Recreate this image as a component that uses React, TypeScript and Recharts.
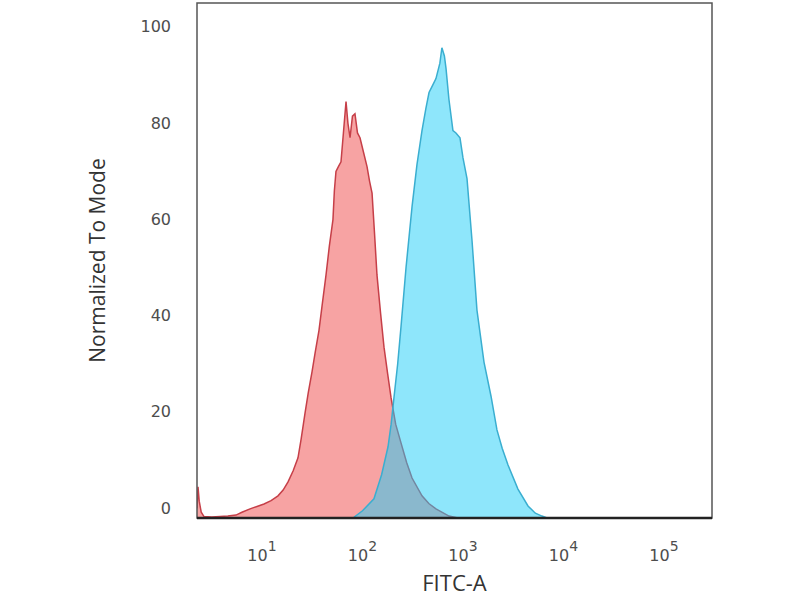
import React from "react";
import { AreaChart, Area, XAxis, YAxis, ReferenceArea, Label } from "recharts";

// x positions are log10 of FITC-A intensity, y values are % of mode
const redLog = [
    0.353, 0.363, 0.375, 0.395, 0.423, 0.5, 0.582, 0.66, 0.741, 0.8, 0.881, 0.95, 1.02, 1.09, 1.159, 1.21,
    1.259, 1.31, 1.358, 1.39, 1.428, 1.46, 1.498, 1.53, 1.567, 1.6, 1.637, 1.67, 1.706, 1.72, 1.736, 1.76,
    1.786, 1.81, 1.836, 1.855, 1.876, 1.9, 1.925, 1.95, 1.975, 2.01, 2.045, 2.07, 2.095, 2.12, 2.144, 2.18,
    2.214, 2.25, 2.284, 2.33, 2.383, 2.44, 2.493, 2.592, 2.66, 2.731, 2.861, 2.95,
];
const redPct = [
    2, 6.5, 3.5, 1.2, 0.3, 0.2, 0.3, 0.4, 0.6, 1.2, 1.9, 2.4, 2.9, 3.6, 4.6, 5.8,
    7.5, 9.8, 12.5, 16.5, 21.8, 26, 30.4, 34.5, 39, 44.5, 50.5, 56.5, 62, 68, 72, 73,
    74, 80, 86.5, 82, 79, 83.5, 84, 80, 79, 76, 73, 70, 67.5, 59, 50.5, 42.5,
    35.5, 30, 25, 19.5, 15.6, 11.5, 8.3, 4.6, 3, 1.9, 0.4, 0,
];

const blueLog = [
    1.905, 2.0, 2.114, 2.19, 2.254, 2.285, 2.313, 2.35, 2.383, 2.433, 2.493, 2.542, 2.592, 2.63, 2.662, 2.7,
    2.731, 2.77, 2.79, 2.815, 2.831, 2.86, 2.9, 2.93, 2.97, 3.0, 3.04, 3.09, 3.139, 3.209, 3.279, 3.338,
    3.39, 3.448, 3.547, 3.647, 3.72, 3.786, 3.836,
];
const bluePct = [
    0, 1.5, 4, 9, 14.8, 19.5, 25, 32, 39.7, 52, 64.7, 73.4, 80.5, 85, 88.4, 90,
    91.3, 94.5, 97.7, 96, 93.4, 87, 80.5, 80, 79, 74.8, 70.5, 57.6, 43.2, 32.4, 25.3, 18.3,
    14.5, 11, 6, 2.5, 1, 0.4, 0,
];

const decadeTicks = [1, 2, 3, 4, 5];
const modeTicks = [0, 20, 40, 60, 80, 100];
const xDomain = [0.353, 5.478];
const yDomain = [0, 107];

const redData = redLog.map((x, i) => ({ x, y: redPct[i] }));
const blueData = blueLog.map((x, i) => ({ x, y: bluePct[i] }));

const DecadeTick = (props: any) => {
    const { x, payload } = props;
    return (
        <text x={x} y={561} textAnchor="middle" fill="#4d4d4d" fontFamily="DejaVu Sans" fontSize={16}>
            10
            <tspan dy={-10} fontSize={14}>
                {payload.value}
            </tspan>
        </text>
    );
};

const ModeTick = (props: any) => {
    const { y, payload } = props;
    return (
        <text x={171} y={y - 10} dy="0.36em" textAnchor="end" fill="#4d4d4d" fontFamily="DejaVu Sans" fontSize={16}>
            {payload.value}
        </text>
    );
};

const YTitle = (props: any) => {
    const { viewBox } = props;
    const cy = viewBox.y + viewBox.height / 2;
    return (
        <text
            x={97}
            y={cy}
            transform={`rotate(-90, 97, ${cy})`}
            dy="0.36em"
            textAnchor="middle"
            fill="#333"
            fontFamily="Open Sans"
            fontSize={21}
        >
            Normalized To Mode
        </text>
    );
};

const App: React.FC = () => {
    return (
        <div style={{ position: "absolute", left: 0, top: 0, background: "#fff" }}>
            <AreaChart width={800} height={600} margin={{ top: 3, right: 88, bottom: 0, left: 0 }}>
                <XAxis
                    type="number"
                    dataKey="x"
                    domain={xDomain}
                    ticks={decadeTicks}
                    allowDataOverflow
                    height={82}
                    tickLine={false}
                    axisLine={{ stroke: "#222", strokeWidth: 2.5 }}
                    tick={<DecadeTick />}
                >
                    <Label value="FITC-A" position="insideBottom" offset={9} fill="#333" fontFamily="Open Sans" fontSize={22} />
                </XAxis>
                <YAxis
                    type="number"
                    domain={yDomain}
                    ticks={modeTicks}
                    allowDataOverflow
                    width={197}
                    tickLine={false}
                    axisLine={false}
                    tick={<ModeTick />}
                >
                    <Label content={<YTitle />} />
                </YAxis>
                <Area
                    data={redData}
                    dataKey="y"
                    type="linear"
                    fill="#f04848"
                    fillOpacity={0.5}
                    stroke="#c63f48"
                    strokeWidth={1.5}
                    dot={false}
                    activeDot={false}
                    isAnimationActive={false}
                />
                <Area
                    data={blueData}
                    dataKey="y"
                    type="linear"
                    fill="#1dcdf7"
                    fillOpacity={0.5}
                    stroke="#3aaed0"
                    strokeWidth={1.5}
                    dot={false}
                    activeDot={false}
                    isAnimationActive={false}
                />
                <ReferenceArea
                    x1={xDomain[0]}
                    x2={xDomain[1]}
                    y1={yDomain[0]}
                    y2={yDomain[1]}
                    fill="none"
                    stroke="#555"
                    strokeWidth={1.5}
                    ifOverflow="visible"
                />
            </AreaChart>
        </div>
    );
};

export default App;
